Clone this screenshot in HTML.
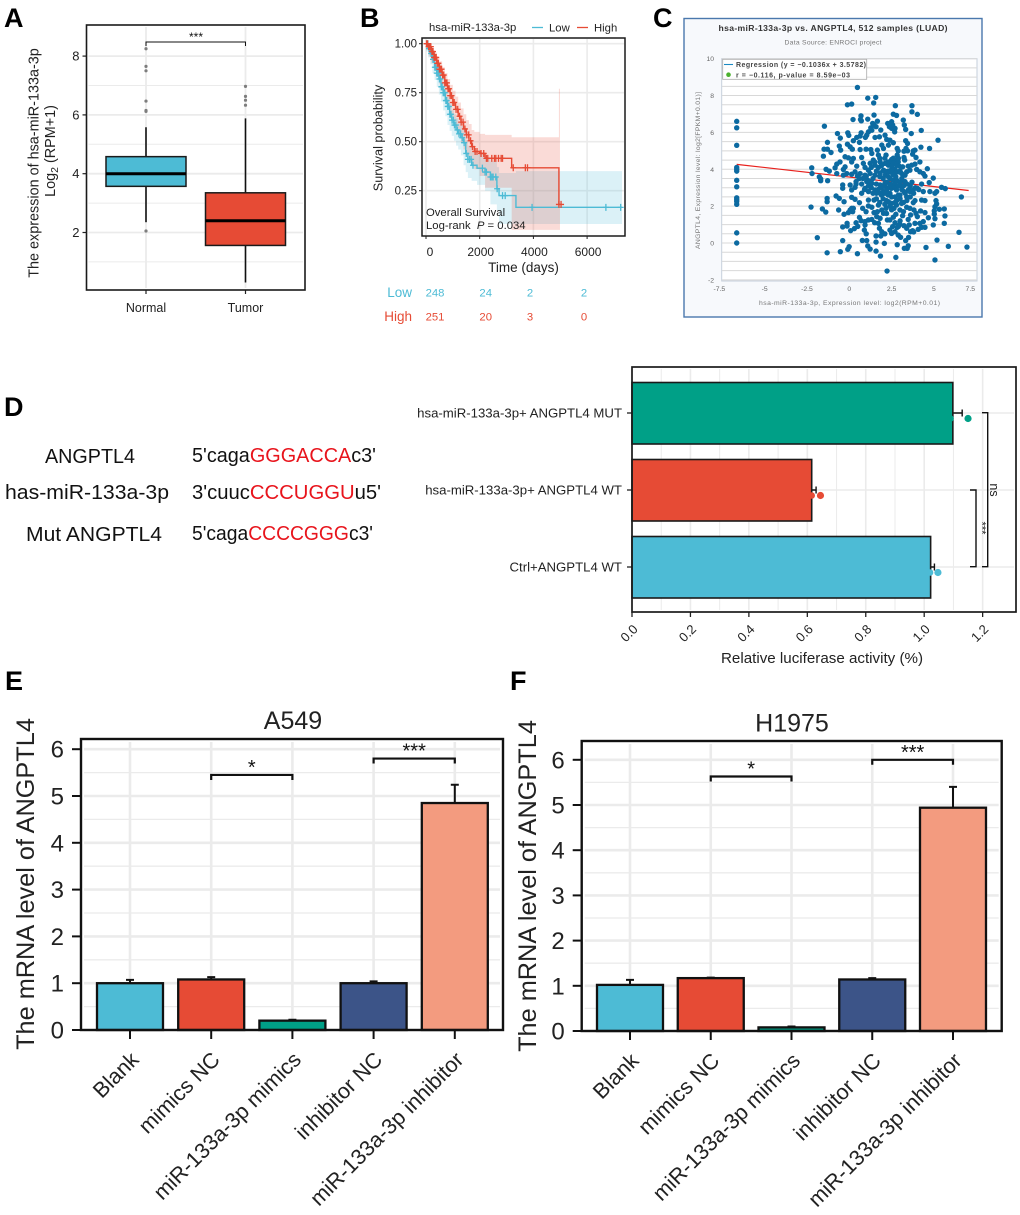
<!DOCTYPE html>
<html lang="en">
<head>
<meta charset="utf-8">
<title>hsa-miR-133a-3p and ANGPTL4 figure</title>
<style>
html,body{margin:0;padding:0;background:#fff;width:1020px;height:1215px;overflow:hidden}
svg{display:block;font-family:"Liberation Sans",sans-serif}
</style>
</head>
<body>
<svg id="fig" xmlns="http://www.w3.org/2000/svg" width="1020" height="1215" viewBox="0 0 1020 1215">
  <rect width="1020" height="1215" fill="#fff"/>
  <g font-weight="700" font-size="27" fill="#000">
    <text x="4" y="27">A</text>
    <text x="360" y="27">B</text>
    <text x="653" y="27">C</text>
    <text x="4" y="416">D</text>
    <text x="5" y="690">E</text>
    <text x="510" y="690">F</text>
  </g>
  <g font-size="20.5" fill="#111">
    <text x="45" y="463" textLength="90" lengthAdjust="spacingAndGlyphs">ANGPTL4</text>
    <text x="5" y="499" textLength="164" lengthAdjust="spacingAndGlyphs">has-miR-133a-3p</text>
    <text x="26" y="541" textLength="136" lengthAdjust="spacingAndGlyphs">Mut ANGPTL4</text>
    <text x="192" y="462" textLength="184" lengthAdjust="spacingAndGlyphs">5'caga<tspan fill="#e8141c">GGGACCA</tspan>c3'</text>
    <text x="192" y="499" textLength="189" lengthAdjust="spacingAndGlyphs">3'cuuc<tspan fill="#e8141c">CCCUGGU</tspan>u5'</text>
    <text x="192" y="540" textLength="181" lengthAdjust="spacingAndGlyphs">5'caga<tspan fill="#e8141c">CCCCGGG</tspan>c3'</text>
  </g>
</svg>
<script>
/* ===== Panel A data ===== */
const boxCategories = ['Normal', 'Tumor'];
const boxLowerWhisker = [2.35, 0.3];
const boxQ1 = [3.57, 1.56];
const boxMedian = [4.0, 2.4];
const boxQ3 = [4.58, 3.35];
const boxUpperWhisker = [5.58, 5.88];
const boxOutliersNormal = [8.25, 7.65, 7.5, 6.47, 6.15, 6.12, 2.05];
const boxOutliersTumor = [6.97, 6.63, 6.5, 6.33];
const boxTicks = [2, 4, 6, 8];
const boxMinorTicks = [1, 3, 5, 7];

/* ===== Panel B data ===== */
const kmTicksX = [0, 2000, 4000, 6000];
const kmTicksY = [0.25, 0.5, 0.75, 1.0];
const lowDays = [0,80,160,240,320,400,480,560,640,720,800,880,960,1040,1120,1200,1300,1400,1480,1560,1700,1900,2200,2400,2640,2720,3350,7300];
const lowSurv = [1,.975,.95,.92,.88,.85,.82,.78,.75,.71,.68,.64,.61,.585,.56,.54,.52,.495,.44,.41,.38,.365,.345,.32,.26,.225,.165,.165];
const lowUpper = [1,.99,.97,.945,.91,.885,.86,.82,.795,.76,.73,.695,.665,.64,.62,.6,.58,.56,.51,.48,.45,.435,.42,.40,.37,.34,.35,.35];
const lowLower = [1,.96,.93,.895,.85,.815,.78,.74,.705,.66,.63,.585,.555,.53,.505,.48,.46,.43,.38,.345,.315,.3,.28,.25,.18,.15,.08,.08];
const highDays = [0,100,200,300,400,500,600,700,800,900,1000,1100,1200,1300,1400,1500,1600,1700,1800,2000,2200,3190,4950,4990];
const highSurv = [1,.985,.96,.93,.9,.87,.84,.80,.77,.735,.70,.665,.63,.6,.565,.535,.505,.475,.45,.44,.415,.367,.18,.18];
const highUpper = [1,1,.98,.955,.93,.91,.88,.85,.82,.79,.76,.73,.70,.67,.64,.61,.59,.56,.55,.54,.535,.523,.77,.77];
const highLower = [1,.97,.935,.9,.865,.83,.795,.755,.72,.68,.64,.605,.565,.53,.495,.46,.43,.4,.375,.36,.325,.265,.05,.05];
const lowCensor = [30,70,110,150,190,220,260,290,330,360,400,430,470,500,540,570,600,640,670,700,740,770,810,850,890,930,970,1020,1060,1110,1170,1230,1290,1350,1420,1500,1560,1620,1680,1750,2100,2200,2250,2400,2450,2500,2600,2650,2850,2950,3950,6700,7250];
const highCensor = [20,60,100,140,180,220,260,300,340,380,420,460,500,540,580,620,660,700,740,780,820,860,900,950,1000,1050,1120,1180,1250,1310,1380,1450,1520,1590,1660,1730,1830,1900,2050,2150,2250,2300,2450,2550,2600,2700,2800,2850,3250,3700,3780,4950,5030];
const riskLabels = ['Low', 'High'];
const riskLow = [248, 24, 2, 2];
const riskHigh = [251, 20, 3, 0];

/* ===== Panel C data ===== */
const scatterTicksX = [-7.5, -5, -2.5, 0, 2.5, 5, 7.5];
const scatterTicksXLabels = ['-7.5', '-5', '-2.5', '0', '2.5', '5', '7.5'];
const scatterTicksY = [-2, 0, 2, 4, 6, 8, 10];
const regressionSlope = -0.1036;
const regressionIntercept = 3.5782;
const regressionRange = [-6.65, 7.05];
const scatterX = [-6.65,-6.65,-6.65,-6.65,-6.65,-6.65,-6.65,-6.65,-6.65,-6.65,-6.65,-6.65,-6.65,-6.65,
.48,1.09,1.56,1.44,-.11,.14,.22,.69,.66,.71,1.09,1.46,1.66,1.38,1.58,1.27,-1.47,2.27,2.37,1.86,
-.7,-.09,-.03,-.53,.7,.44,.64,.24,.6,1.13,1.03,1.33,.95,1.46,1.78,2.11,1.52,2.21,
-1.29,-1.49,-1.29,-1.08,-1.53,-.59,-.51,-.11,.05,.18,.64,.99,1.27,1.33,1.66,1.92,2.02,1.72,2.17,2.31,
-.25,-.05,.24,.14,-.55,-.74,-.84,-.25,-.35,.73,.44,.83,.93,1.23,1.13,1.52,1.82,2.11,1.42,1.72,2.02,2.31,-2.22,-2.2,-1.37,-1.18,-1.77,-.35,-.15,.34,.14,.48,.64,.93,1.23,1.52,1.82,2.11,2.31,-.74,-1.69,
2.72,3.7,3.7,4.02,2.6,2.79,3.19,3.25,3.33,4.25,3.66,5.24,2.5,2.56,2.7,2.68,2.5,
2.4,2.6,3.33,3.44,4.23,4.74,2.83,2.89,3.35,3.44,3.23,3.78,3.88,3.74,3.94,2.83,3.23,3.27,
2.5,2.7,2.89,2.4,2.6,2.79,2.5,2.95,3.15,2.7,2.89,3.09,3.29,2.56,2.75,3.48,3.68,3.88,4.17,3.58,3.98,4.17,4.61,4.37,4.47,4.96,3.39,
-1.69,-1.28,-.39,-.39,.05,.14,.34,.73,.93,1.13,1.33,.73,1.13,1.52,1.82,2.02,2.25,1.82,.4,1.03,2.11,
-.78,-.59,-.31,-1.31,-1.31,-2.26,-1.59,-1.39,-.63,-.31,.14,.34,.6,.14,.05,.24,-.05,.2,
1.13,1.46,1.13,1.33,.79,.99,1.46,1.66,1.92,2.17,2.31,1.72,2.02,.6,.7,.93,1.13,1.33,1.62,1.82,2.25,1.72,1.78,.93,.89,1.92,1.58,1.86,
-.13,-.39,-.13,.3,.08,-1.89,-.39,.77,1.03,1.58,2.07,1.09,1.23,-.01,-.09,-.53,-1.31,.48,1.58,1.84,2.23,
2.7,2.5,2.79,3.09,3.29,2.4,2.7,2.99,3.23,3.39,3.58,3.78,4.02,4.27,4.72,5.45,5.67,6.62,4.37,4.76,5.06,5.16,3.88,4.27,4.47,3.78,5.12,5.16,5.06,5.32,5.61,5.02,5.02,5.65,5.06,5.61,4.96,
2.5,2.79,3.09,2.64,2.99,3.39,3.58,3.82,3.94,4.21,4.47,2.75,3.15,3.62,4.02,4.67,3.48,2.4,3.88,4.17,4.37,4.47,4.27,4.07,3.54,2.7,2.99,3.23,2.56,2.83,3.39,3.62,3.74,2.7,2.5,2.89,3.03,3.33,6.48,5.18,2.83,3.48,3.42,3.25,4.53,5.85,6.95,2.75,5.06,
2.0,2.2,2.4,2.6,2.8,3.0,3.2,2.2,2.5,2.3,2.5,2.2,1.9,1.7,1.6,1.4,1.2,1.0,.8,.6,.4,.9,1.4,1.9,2.9,2.7,2.2,2.4,2.5,2.1,1.8,1.6,2.7,2.3,2.1,1.9,2.5,3.4,3.5,3.6,3.8,
1.6,1.8,2.0,2.1,2.3,2.4,2.6,2.7,2.8,2.9,3.0,3.1,3.2,3.3,3.1,3.0,2.9,2.6,2.3,2.1,1.8,1.5,1.3,1.1,1.3,1.6,2.0,2.2,2.6,3.0,3.2,3.4,3.6,3.7,3.9,4.1,2.4,2.1,2.9,1.5,1.0,.5,.4,3.5,3.8];
const scatterY = [6.6,6.25,5.3,4.1,4.0,3.9,3.4,3.05,2.45,2.35,2.25,2.1,.55,0,
8.44,7.86,7.9,7.6,7.5,7.54,6.7,6.9,6.7,6.63,6.72,6.94,6.61,6.49,6.31,6.25,6.34,6.49,6.31,6.13,
5.94,5.98,5.84,5.69,5.98,5.73,5.8,5.55,5.46,6.03,5.85,6.12,5.73,6.4,5.76,5.85,5.73,5.62,
5.46,5.09,5.09,4.91,4.71,5.26,5.04,5.36,5.22,5.09,5.07,5.09,5.07,4.86,5.04,5.31,5.13,4.77,4.77,5.31,
4.68,4.62,4.59,4.4,4.4,4.28,4.08,4.13,3.99,4.64,4.17,4.32,4.1,4.32,3.95,4.22,4.4,4.32,4.5,4.1,3.95,4.22,4.08,3.77,4.0,3.9,3.59,3.68,3.77,3.86,3.73,3.63,3.77,3.68,3.77,3.68,3.81,3.68,3.86,3.77,3.48,
7.45,7.45,7.12,6.98,6.99,6.92,6.67,6.4,6.16,6.11,5.94,5.58,6.58,6.4,6.22,6.03,6.22,
5.58,5.44,5.55,5.4,5.2,5.13,5.13,5.0,5.13,5,4.98,5,5.04,4.82,4.64,4.77,4.64,4.5,
4.53,4.5,4.4,4.4,4.32,4.22,4.17,4.17,4.13,3.99,3.86,3.77,3.68,3.77,3.59,4.17,4.22,4.28,4.4,3.95,3.99,3.86,4.03,3.77,3.63,3.52,3.86,
3.38,3.38,3.15,2.97,3.15,2.88,3.02,3.2,2.97,3.09,3.24,2.7,2.79,2.88,3.15,2.79,2.97,2.7,3.33,3.33,3.24,
2.55,2.42,2.24,2.42,2.24,1.95,1.85,1.68,1.79,1.56,2.48,2.37,2.19,1.88,1.79,1.88,1.65,1.7,
2.33,2.33,2.01,1.94,1.88,1.7,1.65,1.7,1.79,1.88,2.24,2.06,1.61,1.39,1.21,1.16,1.25,1.28,1.43,1.34,1.25,1.07,.8,.98,.7,.61,.38,.38,
1.07,.87,.92,.78,.67,.29,.13,.14,.13,.05,-.02,-.16,-.33,-.2,-.34,-.47,-.53,-.58,-.44,-.71,-1.52,
3.24,2.97,2.88,3.06,3.33,2.7,2.5,2.6,2.79,2.5,2.79,2.88,2.97,3.2,3.28,3.02,2.95,2.5,2.79,2.79,2.7,2.79,2.3,2.33,2.3,2.19,2.3,2.12,1.97,1.83,1.85,1.75,1.57,1.47,1.32,1.07,.98,
2.15,2.06,2.15,1.88,1.79,1.94,1.88,1.79,1.61,1.74,1.65,1.56,1.48,1.52,1.43,1.37,1.28,1.25,1.07,1.07,1.16,.85,.85,.74,.98,1.1,1.01,.94,.89,.85,.8,.61,.67,.61,.52,.43,.31,.13,.58,.16,-.09,-.15,-.29,-.29,-.24,-.18,-.22,-.78,-.92,
3.5,3.3,3.5,3.4,3.4,3.3,3.1,3.0,3.1,2.6,2.5,2.8,2.6,2.9,3.2,3.5,3.3,3.6,3.5,3.5,3.2,2.9,2.7,3.0,2.6,2.2,2.3,2.0,1.8,2.1,2.2,2.4,3.8,3.9,3.9,4.2,4.0,3.2,2.9,3.1,2.7,
3.9,3.6,3.1,2.7,3.6,3.2,3.7,3.0,2.3,3.1,2.4,2.9,2.2,2.7,3.5,3.9,4.6,4.6,4.4,4.6,4.6,4.4,4.1,3.4,3.0,2.7,2.4,1.6,1.4,1.2,1.7,2.3,2.5,3.3,3.0,2.9,.7,.5,.9,1.1,.5,.9,1.1,.3,.6];

/* ===== Panel D data ===== */
const lucCategories = ['hsa-miR-133a-3p+ ANGPTL4 MUT', 'hsa-miR-133a-3p+ ANGPTL4 WT', 'Ctrl+ANGPTL4 WT'];
const lucValues = [1.098, 0.615, 1.022];
const lucErrors = [1.13, 0.63, 1.035];
const lucDotsA = [1.09, 0.615, 1.02];
const lucDotsB = [1.15, 0.645, 1.047];
const lucTicks = [0, 0.2, 0.4, 0.6, 0.8, 1.0, 1.2];
const lucMinorTicks = [0.1, 0.3, 0.5, 0.7, 0.9, 1.1];

/* ===== Panels E and F data ===== */
const qpcrCategories = ['Blank', 'mimics NC', 'miR-133a-3p mimics', 'inhibitor NC', 'miR-133a-3p inhibitor'];
const qpcrTicks = [0, 1, 2, 3, 4, 5, 6];
const qpcrMinorTicks = [0.5, 1.5, 2.5, 3.5, 4.5, 5.5];
const a549Values = [1.0, 1.08, 0.2, 1.0, 4.85];
const a549Errors = [1.07, 1.13, 0.22, 1.04, 5.24];
const a549Brackets = [5.45, 5.8];
const h1975Values = [1.02, 1.17, 0.08, 1.14, 4.94];
const h1975Errors = [1.13, 1.18, 0.10, 1.17, 5.4];
const h1975Brackets = [5.63, 6.0];

const NPG = ['#4DBBD5', '#E64B35', '#00A087', '#3C5488', '#F39B7F'];
const GRID = '#ebebeb';
const NS = 'http://www.w3.org/2000/svg';
const root = document.getElementById('fig');

function mk(tag, attrs, parent) {
  const e = document.createElementNS(NS, tag);
  for (const k in attrs) e.setAttribute(k, attrs[k]);
  (parent || root).appendChild(e);
  return e;
}
function label(attrs, str, parent) {
  const e = mk('text', attrs, parent);
  e.textContent = str;
  return e;
}
function stepPath(xs, ys, fx, fy) {
  let d = 'M' + fx(xs[0]) + ' ' + fy(ys[0]);
  for (let i = 1; i < xs.length; i++) {
    d += 'H' + fx(xs[i]) + 'V' + fy(ys[i]);
  }
  return d;
}
function ribbonPath(xs, up, lo, fx, fy) {
  let d = 'M' + fx(xs[0]) + ' ' + fy(up[0]);
  for (let i = 1; i < xs.length; i++) d += 'H' + fx(xs[i]) + 'V' + fy(up[i]);
  d += 'V' + fy(lo[xs.length - 1]);
  for (let i = xs.length - 2; i >= 0; i--) d += 'V' + fy(lo[i + 1]) + 'H' + fx(xs[i]);
  return d + 'Z';
}
function stepAt(xs, ys, t) {
  let v = ys[0];
  for (let i = 0; i < xs.length; i++) if (xs[i] <= t) v = ys[i];
  return v;
}

/* ===== Panel A ===== */
(function () {
  const L = 86.5, R = 305, T = 25, B = 290;
  const g = mk('g', {});
  
  
  const y = v => 173.7 - (v - 4) * 29.4;
  const xc = [146, 245.5];
  boxMinorTicks.forEach(v => {
    const l = mk('line', {x1: L + 2, x2: R - 2, y1: y(v), y2: y(v), stroke: GRID, 'stroke-width': 1}, g);
    
    
  });
  boxTicks.forEach(v => {
    const l = mk('line', {x1: L + 2, x2: R - 2, y1: y(v), y2: y(v), stroke: GRID, 'stroke-width': 1.8}, g);
    
    
    const t = mk('line', {x1: L - 4, x2: L, y1: y(v), y2: y(v), stroke: '#222', 'stroke-width': 1.2}, g);
    
    
    const s = label({x: L - 7, y: y(v) + 4.5, 'text-anchor': 'end', 'font-size': 13, fill: '#222'}, String(v), g);
    
    
  });
  boxCategories.forEach((c, i) => {
    const v = mk('line', {x1: xc[i], x2: xc[i], y1: T + 2, y2: B - 2, stroke: GRID, 'stroke-width': 1.8}, g);
    
    
    const t = mk('line', {x1: xc[i], x2: xc[i], y1: B, y2: B + 4, stroke: '#222', 'stroke-width': 1.2}, g);
    
    
    const s = label({x: xc[i], y: 312, 'text-anchor': 'middle', 'font-size': 12.5, fill: '#222'}, c, g);
    
    
    const w = mk('line', {x1: xc[i], x2: xc[i], y1: y(boxLowerWhisker[i]), y2: y(boxUpperWhisker[i]), stroke: '#111', 'stroke-width': 1.6}, g);
    
    
    const b = mk('rect', {x: xc[i] - 40, width: 80, y: y(boxQ3[i]), height: y(boxQ1[i]) - y(boxQ3[i]), fill: NPG[i], stroke: '#1a1a1a', 'stroke-width': 1.5}, g);
    
    
    const m = mk('line', {x1: xc[i] - 40, x2: xc[i] + 40, y1: y(boxMedian[i]), y2: y(boxMedian[i]), stroke: '#000', 'stroke-width': 3}, g);
    
    
  });
  [boxOutliersNormal, boxOutliersTumor].forEach((arr, i) => {
    arr.forEach(v => {
      const o = mk('circle', {cx: xc[i], cy: y(v), r: 1.6, fill: '#7d7d7d'}, g);
      
      
    });
  });
  const fr = mk('rect', {x: L, y: T, width: R - L, height: B - T, fill: 'none', stroke: '#1a1a1a', 'stroke-width': 1.6}, g);
  
  
  const br = mk('path', {d: 'M146 46V42H245.5V46', fill: 'none', stroke: '#111', 'stroke-width': 1}, g);
  
  
  const st = label({x: 196, y: 41, 'text-anchor': 'middle', 'font-size': 12, fill: '#111'}, '***', g);
  
  
  const y1 = label({transform: 'translate(38.5 163) rotate(-90)', 'text-anchor': 'middle', 'font-size': 14.4, fill: '#222'}, 'The expression of hsa-miR-133a-3p', g);
  
  
  const y2 = mk('text', {transform: 'translate(55 151) rotate(-90)', 'text-anchor': 'middle', 'font-size': 14.4, fill: '#222'}, g);
  
  
  y2.appendChild(document.createTextNode('Log'));
  const sub = mk('tspan', {dy: 3, 'font-size': 10.5}, y2);
  sub.textContent = '2';
  const rest = mk('tspan', {dy: -3}, y2);
  rest.textContent = ' (RPM+1)';
})();

/* ===== Panel B ===== */
(function () {
  const L = 422, R = 625, T = 38, B = 236;
  const g = mk('g', {});
  
  
  const x = d => 426 + d * 0.02685;
  const y = p => 43.7 + (1 - p) * 196;
  kmTicksY.forEach(v => {
    const l = mk('line', {x1: L + 1, x2: R - 1, y1: y(v), y2: y(v), stroke: GRID, 'stroke-width': 1.6}, g);
    
    
    const t = mk('line', {x1: L - 3, x2: L, y1: y(v), y2: y(v), stroke: '#222', 'stroke-width': 1}, g);
    
    
    const s = label({x: L - 5, y: y(v) + 4, 'text-anchor': 'end', 'font-size': 11.5, fill: '#222'}, v.toFixed(2), g);
    
    
  });
  kmTicksX.forEach(v => {
    const l = mk('line', {x1: x(v), x2: x(v), y1: T + 1, y2: B - 1, stroke: GRID, 'stroke-width': 1.6}, g);
    
    
    const t = mk('line', {x1: x(v), x2: x(v), y1: B, y2: B + 3, stroke: '#222', 'stroke-width': 1}, g);
    
    
    const s = label({x: v === 0 ? x(v) + 4 : x(v) + 1, y: 256, 'text-anchor': 'middle', 'font-size': 12, fill: '#222'}, String(v), g);
    
    
  });
  const r1 = mk('path', {d: ribbonPath(lowDays, lowUpper, lowLower, x, y), fill: NPG[0], 'fill-opacity': 0.2}, g);
  
  
  const r2 = mk('path', {d: ribbonPath(highDays, highUpper, highLower, x, y), fill: NPG[1], 'fill-opacity': 0.2}, g);
  
  
  const c1 = mk('path', {d: stepPath(lowDays, lowSurv, x, y), fill: 'none', stroke: NPG[0], 'stroke-width': 1.4}, g);
  
  
  lowCensor.forEach(d => {
    const m = mk('path', {d: 'M' + (x(d) - 3) + ' ' + y(stepAt(lowDays, lowSurv, d)) + 'h6m-3 -3.5v7', stroke: NPG[0], 'stroke-width': 1.3, fill: 'none'}, g);
    
    
  });
  const c2 = mk('path', {d: stepPath(highDays, highSurv, x, y), fill: 'none', stroke: NPG[1], 'stroke-width': 1.4}, g);
  
  
  highCensor.forEach(d => {
    const m = mk('path', {d: 'M' + (x(d) - 3) + ' ' + y(stepAt(highDays, highSurv, d)) + 'h6m-3 -3.5v7', stroke: NPG[1], 'stroke-width': 1.3, fill: 'none'}, g);
    
    
  });
  const fr = mk('rect', {x: L, y: T, width: R - L, height: B - T, fill: 'none', stroke: '#1a1a1a', 'stroke-width': 1.5}, g);
  
  
  const ti = label({x: 429, y: 31, 'font-size': 11.3, fill: '#222'}, 'hsa-miR-133a-3p', g);
  
  
  const ll = mk('line', {x1: 532, x2: 543, y1: 27.5, y2: 27.5, stroke: NPG[0], 'stroke-width': 1.3}, g);
  
  
  const lt = label({x: 549, y: 31.5, 'font-size': 11.3, fill: '#222'}, 'Low', g);
  
  
  const hl = mk('line', {x1: 577, x2: 588, y1: 27.5, y2: 27.5, stroke: NPG[1], 'stroke-width': 1.3}, g);
  
  
  const ht = label({x: 594, y: 31.5, 'font-size': 11.3, fill: '#222'}, 'High', g);
  
  
  const os = label({x: 426, y: 216, 'font-size': 11.3, fill: '#222'}, 'Overall Survival', g);
  
  
  const lr = mk('text', {x: 426, y: 229, 'font-size': 11.3, fill: '#222'}, g);
  
  
  lr.appendChild(document.createTextNode('Log-rank\u00a0\u00a0'));
  const pi = mk('tspan', {'font-style': 'italic'}, lr);
  pi.textContent = 'P';
  const pv = mk('tspan', {}, lr);
  pv.textContent = ' = 0.034';
  const xt = label({x: 523.5, y: 272, 'text-anchor': 'middle', 'font-size': 13.5, fill: '#222'}, 'Time (days)', g);
  
  
  const yt = label({transform: 'translate(382.5 138) rotate(-90)', 'text-anchor': 'middle', 'font-size': 12.7, fill: '#222'}, 'Survival probability', g);
  
  
  const riskX = [435, 485.7, 530, 584];
  [riskLow, riskHigh].forEach((arr, r) => {
    const yy = r === 0 ? 297 : 321;
    const col = r === 0 ? NPG[0] : NPG[1];
    const rl = label({x: 412, y: yy, 'text-anchor': 'end', 'font-size': 13.5, fill: col}, riskLabels[r], g);
    
    
    arr.forEach((v, i) => {
      const c = label({x: riskX[i], y: yy - 0.5, 'text-anchor': 'middle', 'font-size': 11.3, fill: col}, String(v), g);
      
      
    });
  });
})();

/* ===== Panel C ===== */
(function () {
  const g = mk('g', {});
  
  
  const x = v => 849.3 + v * 16.93;
  const y = v => 243 - v * 18.43;
  const card = mk('rect', {x: 684, y: 18.5, width: 298, height: 298.5, fill: '#f7f9fc', stroke: '#4a78ad', 'stroke-width': 1.4}, g);
  
  
  const ti = label({x: 833, y: 31, 'text-anchor': 'middle', 'font-size': 8.6, 'font-weight': 700, fill: '#333', textLength: 229, lengthAdjust: 'spacing'}, 'hsa-miR-133a-3p vs. ANGPTL4, 512 samples (LUAD)', g);
  
  
  const su = label({x: 833, y: 44.5, 'text-anchor': 'middle', 'font-size': 6.8, fill: '#777', textLength: 97, lengthAdjust: 'spacing'}, 'Data Source: ENROCI project', g);
  
  
  const pb = mk('rect', {x: 721.7, y: 58.7, width: 255.3, height: 222.3, fill: '#fff', stroke: '#c6cfdb', 'stroke-width': 1}, g);
  
  
  for (let v = -2; v <= 10; v += 0.5) {
    const l = mk('line', {x1: 722, x2: 977, y1: y(v), y2: y(v), stroke: '#d8d8d8', 'stroke-width': 1}, g);
    
    
  }
  scatterTicksY.forEach(v => {
    const s = label({x: 714, y: y(v) + 2.5, 'text-anchor': 'end', 'font-size': 6.8, fill: '#666'}, String(v), g);
    
    
  });
  scatterTicksX.forEach((v, i) => {
    const px = v === 7.5 ? x(v) - 6 : (v === -7.5 ? x(v) - 3 : x(v));
    const s = label({x: px, y: 291, 'text-anchor': 'middle', 'font-size': 6.8, fill: '#666'}, scatterTicksXLabels[i], g);
    
    
  });
  const rx = regressionRange;
  const rl = mk('line', {x1: x(rx[0]), x2: x(rx[1]), y1: y(regressionSlope * rx[0] + regressionIntercept), y2: y(regressionSlope * rx[1] + regressionIntercept), stroke: '#e8201c', 'stroke-width': 1.2}, g);
  
  
  scatterX.forEach((v, i) => {
    const p = mk('circle', {cx: x(v), cy: y(scatterY[i]), r: 2.7, fill: '#0c6aa1'}, g);
    
    
  });
  const lb = mk('rect', {x: 722.7, y: 59.3, width: 144, height: 20, fill: '#fff', 'fill-opacity': 0.9, stroke: '#aaa', 'stroke-width': 0.8}, g);
  
  
  const l1 = mk('line', {x1: 724, x2: 733, y1: 64.5, y2: 64.5, stroke: '#1b8ac4', 'stroke-width': 1.1}, g);
  
  
  const t1 = label({x: 736, y: 67, 'font-size': 7, 'font-weight': 700, fill: '#444', textLength: 130, lengthAdjust: 'spacing'}, 'Regression (y = −0.1036x + 3.5782)', g);
  
  
  const d2 = mk('circle', {cx: 728.5, cy: 74.7, r: 2.3, fill: '#4ab02e'}, g);
  
  
  const t2 = label({x: 736, y: 77.3, 'font-size': 7, 'font-weight': 700, fill: '#444', textLength: 114, lengthAdjust: 'spacing'}, 'r = −0.116, p-value = 8.59e−03', g);
  
  
  const xt = label({x: 849.5, y: 305, 'text-anchor': 'middle', 'font-size': 6.8, fill: '#777', textLength: 181, lengthAdjust: 'spacing'}, 'hsa-miR-133a-3p, Expression level: log2(RPM+0.01)', g);
  
  
  const yt = label({transform: 'translate(700 170.5) rotate(-90)', 'text-anchor': 'middle', 'font-size': 6.8, fill: '#777', textLength: 157, lengthAdjust: 'spacing'}, 'ANGPTL4, Expression level: log2[FPKM+0.01)]', g);
  
  
})();

/* ===== Panel D ===== */
(function () {
  const L = 632, R = 1016, T = 367, B = 612;
  const g = mk('g', {});
  
  
  const x = v => 632 + v * 292.2;
  const yc = [413, 490, 567];
  lucMinorTicks.forEach(v => {
    const l = mk('line', {x1: x(v), x2: x(v), y1: T + 2, y2: B - 2, stroke: GRID, 'stroke-width': 1}, g);
    
    
  });
  lucTicks.forEach(v => {
    const l = mk('line', {x1: x(v), x2: x(v), y1: T + 2, y2: B - 2, stroke: GRID, 'stroke-width': 1.6}, g);
    
    
    const t = mk('line', {x1: x(v), x2: x(v), y1: B, y2: B + 5, stroke: '#222', 'stroke-width': 1.3}, g);
    
    
    const s = label({transform: 'translate(' + (x(v) + 6.6) + ' 630) rotate(-45)', 'text-anchor': 'end', 'font-size': 13, fill: '#222'}, v.toFixed(1), g);
    
    
  });
  const colors = [NPG[2], NPG[1], NPG[0]];
  lucCategories.forEach((c, i) => {
    const gl = mk('line', {x1: L, x2: R - 2, y1: yc[i], y2: yc[i], stroke: GRID, 'stroke-width': 1.6}, g);
    
    
    const eb = mk('path', {d: 'M' + x(lucValues[i]) + ' ' + yc[i] + 'H' + x(lucErrors[i]) + 'm0 -3.5v7', fill: 'none', stroke: '#111', 'stroke-width': 1.4}, g);
    
    
    const b = mk('rect', {x: x(0), y: yc[i] - 30.5, width: x(lucValues[i]) - x(0), height: 61.5, fill: colors[i], stroke: '#1a1a1a', 'stroke-width': 1.6}, g);
    
    
    const d1 = mk('circle', {cx: x(lucDotsA[i]), cy: yc[i] + 5.5, r: 3.3, fill: colors[i]}, g);
    
    
    const d2 = mk('circle', {cx: x(lucDotsB[i]), cy: yc[i] + 5.5, r: 3.6, fill: colors[i]}, g);
    
    
    const t = mk('line', {x1: L - 5, x2: L, y1: yc[i], y2: yc[i], stroke: '#222', 'stroke-width': 1.3}, g);
    
    
    const s = label({x: 622, y: yc[i] + 4.5, 'text-anchor': 'end', 'font-size': 13.2, fill: '#222'}, c, g);
    
    
  });
  const fr = mk('rect', {x: L, y: T, width: R - L, height: B - T, fill: 'none', stroke: '#1a1a1a', 'stroke-width': 1.7}, g);
  
  
  const b1 = mk('path', {d: 'M982 412.7H987.7V566.7H982', fill: 'none', stroke: '#111', 'stroke-width': 1.4}, g);
  
  
  const b2 = mk('path', {d: 'M970 490H976V566.7H970', fill: 'none', stroke: '#111', 'stroke-width': 1.4}, g);
  
  
  const ns = label({transform: 'translate(990 490) rotate(90)', 'text-anchor': 'middle', 'font-size': 12.5, fill: '#222'}, 'ns', g);
  
  
  const st = label({transform: 'translate(978.5 528) rotate(90)', 'text-anchor': 'middle', 'font-size': 11, fill: '#222'}, '***', g);
  
  
  const xt = label({x: 822, y: 663, 'text-anchor': 'middle', 'font-size': 15, fill: '#222', textLength: 202, lengthAdjust: 'spacingAndGlyphs'}, 'Relative luciferase activity (%)', g);
  
  
})();

/* ===== Panels E and F ===== */
function qpcrPanel(panelName, title, values, errors, brackets, box) {
  const g = mk('g', {});
  
  
  const y = v => box.zero - v * box.unit;
  const xc = i => box.first + i * box.step;
  qpcrMinorTicks.forEach(v => {
    const l = mk('line', {x1: box.L + 3, x2: box.R - 3, y1: y(v), y2: y(v), stroke: GRID, 'stroke-width': 1.3}, g);
    
    
  });
  qpcrTicks.forEach(v => {
    const l = mk('line', {x1: box.L + 3, x2: box.R - 3, y1: y(v), y2: y(v), stroke: GRID, 'stroke-width': 2.6}, g);
    
    
    const t = mk('line', {x1: box.L - 9, x2: box.L, y1: y(v), y2: y(v), stroke: '#111', 'stroke-width': 2}, g);
    
    
    const s = label({x: box.L - 17, y: y(v) + 8.5, 'text-anchor': 'end', 'font-size': 24, fill: '#222'}, String(v), g);
    
    
  });
  qpcrCategories.forEach((c, i) => {
    const l = mk('line', {x1: xc(i), x2: xc(i), y1: box.T + 3, y2: box.zero, stroke: GRID, 'stroke-width': 2.6}, g);
    
    
  });
  qpcrCategories.forEach((c, i) => {
    const eb = mk('path', {d: 'M' + xc(i) + ' ' + y(values[i]) + 'V' + y(errors[i]) + 'm-4 0h8', fill: 'none', stroke: '#111', 'stroke-width': 2}, g);
    
    
    const b = mk('rect', {x: xc(i) - 33, y: y(values[i]), width: 66, height: y(0) - y(values[i]), fill: NPG[i], stroke: '#111', 'stroke-width': 2.3}, g);
    
    
    const t = mk('line', {x1: xc(i), x2: xc(i), y1: box.zero, y2: box.zero + 9, stroke: '#111', 'stroke-width': 2}, g);
    
    
    const s = label({transform: 'translate(' + (xc(i) + 10) + ' ' + (box.zero + 31) + ') rotate(-45)', 'text-anchor': 'end', 'font-size': 21.6, fill: '#222'}, c, g);
    
    
  });
  const fr = mk('rect', {x: box.L, y: box.T, width: box.R - box.L, height: box.zero - box.T, fill: 'none', stroke: '#111', 'stroke-width': 2.4}, g);
  
  
  const pairs = [[1, 2, '*'], [3, 4, '***']];
  pairs.forEach((p, i) => {
    const yy = y(brackets[i]);
    const br = mk('path', {d: 'M' + xc(p[0]) + ' ' + (yy + 5) + 'V' + yy + 'H' + xc(p[1]) + 'V' + (yy + 5), fill: 'none', stroke: '#111', 'stroke-width': 2.2}, g);
    
    
    const st = label({x: (xc(p[0]) + xc(p[1])) / 2, y: yy - 1, 'text-anchor': 'middle', 'font-size': 20, fill: '#111'}, p[2], g);
    
    
  });
  const ti = label({x: box.titleX, y: box.titleY, 'text-anchor': 'middle', 'font-size': 25, fill: '#222'}, title, g);
  
  
  const yt = label({transform: 'translate(' + box.ylabX + ' ' + box.ylabY + ') rotate(-90)', 'text-anchor': 'middle', 'font-size': 25.3, fill: '#222'}, 'The mRNA level of ANGPTL4', g);
  
  
}
qpcrPanel('panel-e-a549', 'A549', a549Values, a549Errors, a549Brackets,
  {L: 81, R: 503, T: 739, zero: 1030, unit: 46.8, first: 130, step: 81.2, titleX: 293, titleY: 729, ylabX: 34, ylabY: 884});
qpcrPanel('panel-f-h1975', 'H1975', h1975Values, h1975Errors, h1975Brackets,
  {L: 581.7, R: 1001.7, T: 741, zero: 1031, unit: 45.2, first: 630, step: 80.75, titleX: 792, titleY: 731.5, ylabX: 536, ylabY: 886});
</script>
</body>
</html>
